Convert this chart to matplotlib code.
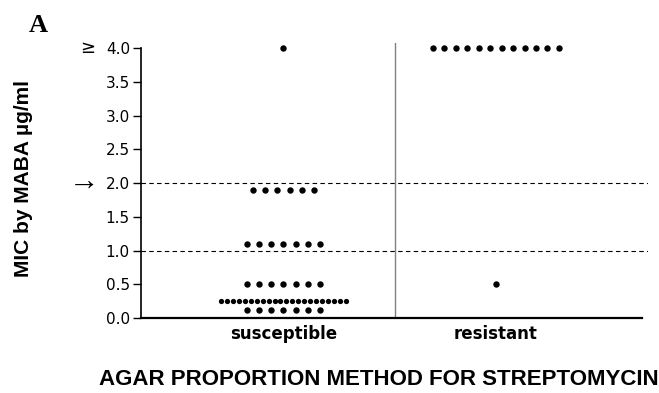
import numpy as np
import matplotlib.pyplot as plt
from matplotlib.transforms import blended_transform_factory

# values (MIC by MABA, ug/ml)
categories = ['susceptible', 'resistant']
susceptible_levels = [4.0, 1.9, 1.1, 0.5, 0.25, 0.125]
susceptible_counts = [1, 6, 7, 7, 22, 7]
resistant_levels = [4.0, 0.5]
resistant_counts = [12, 1]
cutoffs = [1.0, 2.0]
yticks = [0.0, 0.5, 1.0, 1.5, 2.0, 2.5, 3.0, 3.5, 4.0]

cat_pos = [0.281, 0.70]
sep = 0.5

fig = plt.figure(figsize=(6.59, 3.93), dpi=100)
ax = fig.add_axes([0.214, 0.1908, 0.7693, 0.7008])


def draw_group(x0, levels, counts, step_big):
    for lev, n in zip(levels, counts):
        if n > 12:
            step, ms = 0.0118, 3.8
        else:
            step, ms = step_big, 4.6
        xs = x0 + (np.arange(n) - (n - 1) / 2) * step
        ax.plot(xs, np.full(n, lev), 'o', color='black', ms=ms, mew=0)


draw_group(cat_pos[0], susceptible_levels, susceptible_counts, 0.0240)
draw_group(cat_pos[1], resistant_levels, resistant_counts, 0.0226)

for c in cutoffs:
    ax.axhline(c, color='black', lw=0.8, ls=(0, (4, 3)))
ax.axvline(sep, color='#808080', lw=1.0)

ax.set_xlim(0, 1)
ax.set_ylim(0, 4.08)
ax.spines['top'].set_visible(False)
ax.spines['right'].set_visible(False)
ax.spines['left'].set_bounds(0, 4.0)
ax.spines['left'].set_linewidth(1.2)
ax.spines['bottom'].set_linewidth(1.6)
ax.spines['bottom'].set_bounds(0, 0.988)

ax.set_yticks(yticks)
ax.set_yticklabels(['%.1f' % v for v in yticks])
ax.tick_params(axis='y', length=5.5, width=1.0, pad=2.5, labelsize=11)
ax.set_xticks(cat_pos)
ax.set_xticklabels(categories, fontsize=12, fontweight='semibold')
ax.tick_params(axis='x', length=0, pad=5)

tr = blended_transform_factory(ax.transAxes, ax.transData)
ax.text(-0.105, 4.0, '\u2265', transform=tr, ha='center', va='center', fontsize=13)
ax.text(-0.112, 2.0, '\u2192', transform=tr, ha='center', va='center',
        fontsize=22, family='Liberation Serif')

fig.text(0.036, 0.546, 'MIC by MABA \u00b5g/ml', rotation=90, ha='center', va='center',
         fontsize=15, fontweight='bold', family='Liberation Sans')
fig.text(0.575, 0.035, 'AGAR PROPORTION METHOD FOR STREPTOMYCIN', ha='center', va='center',
         fontsize=16, fontweight='bold', family='Liberation Sans')
fig.text(0.058, 0.935, 'A', ha='center', va='center', fontsize=19, fontweight='bold',
         family='Liberation Serif')

fig.savefig('out.png', dpi=100)
